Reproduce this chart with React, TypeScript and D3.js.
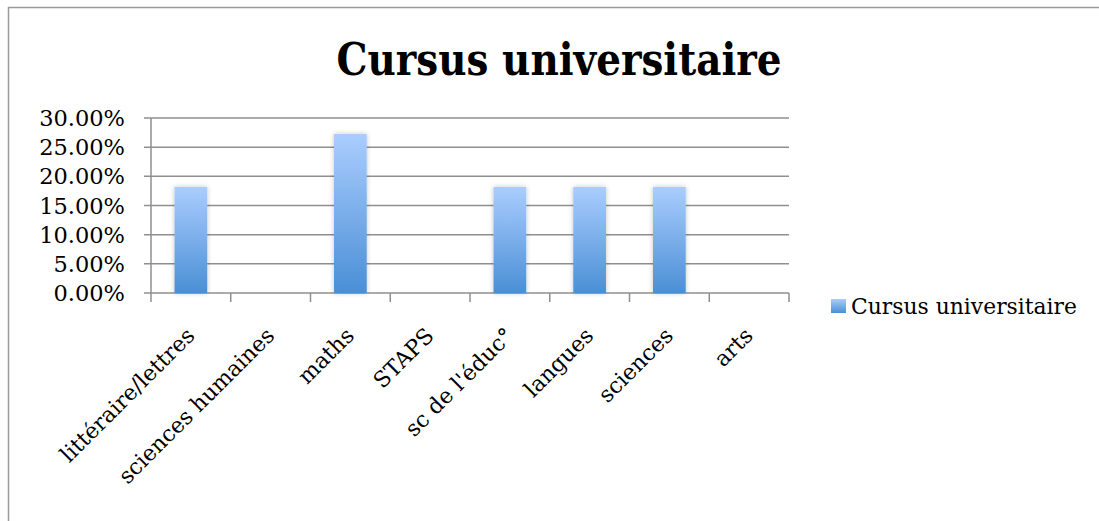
import React from "react";
import * as d3 from "d3";

const categories = [
  "littéraire/lettres",
  "sciences humaines",
  "maths",
  "STAPS",
  "sc de l'éduc°",
  "langues",
  "sciences",
  "arts",
];
const values = [0.1818, 0, 0.2727, 0, 0.1818, 0.1818, 0.1818, 0];
const yTicks = [0, 0.05, 0.1, 0.15, 0.2, 0.25, 0.3];
const seriesName = "Cursus universitaire";
const title = "Cursus universitaire";

const W = 1099;
const H = 521;
const plot = { left: 151, right: 789, top: 118, bottom: 293 };
const font = "'DejaVu Serif', serif";

export default function App() {
  const x = d3
    .scaleBand<string>()
    .domain(categories)
    .range([plot.left, plot.right])
    .paddingInner(0.59)
    .paddingOuter(0.295);
  const xBand = d3.scaleBand<string>().domain(categories).range([plot.left, plot.right]);
  const y = d3.scaleLinear().domain([0, 0.3]).range([plot.bottom, plot.top]);
  const fmt = (v: number) => (v * 100).toFixed(2) + "%";
  const grid = "#8f8f8f";
  const boundaries = d3.range(categories.length + 1).map((i) => plot.left + i * xBand.step());

  return (
    <svg
      width={W}
      height={H}
      style={{ position: "absolute", left: 0, top: 0, background: "#fff" }}
      fontFamily={font}
    >
      <defs>
        <linearGradient id="barGrad" x1="0" y1="0" x2="0" y2="1">
          <stop offset="0" stopColor="#aacdff" />
          <stop offset="1" stopColor="#4a8fd5" />
        </linearGradient>
        <filter id="shadow" x="-30%" y="-10%" width="160%" height="120%">
          <feGaussianBlur in="SourceAlpha" stdDeviation="2.5" />
          <feOffset dx="0" dy="0" />
          <feComponentTransfer>
            <feFuncA type="linear" slope="0.25" />
          </feComponentTransfer>
          <feMerge>
            <feMergeNode />
            <feMergeNode in="SourceGraphic" />
          </feMerge>
        </filter>
      </defs>
      <rect x={0} y={0} width={W} height={H} fill="#fff" />
      <rect x={8.5} y={7.5} width={W + 20} height={H + 20} fill="none" stroke="#9a9a9a" strokeWidth={1.5} />

      <text
        x={559}
        y={75}
        textAnchor="middle"
        fontSize={44}
        fontWeight="bold"
        textLength={445}
        lengthAdjust="spacingAndGlyphs"
      >
        {title}
      </text>

      {yTicks.map((t) => (
        <g key={t}>
          <line x1={plot.left - 7} x2={plot.right} y1={y(t)} y2={y(t)} stroke={grid} strokeWidth={1.5} />
          <text x={125} y={y(t)} dy="0.36em" textAnchor="end" fontSize={22.5} fill="#000">
            {fmt(t)}
          </text>
        </g>
      ))}
      <line x1={plot.left} x2={plot.left} y1={plot.top} y2={plot.bottom + 9} stroke={grid} strokeWidth={1.5} />
      {boundaries.slice(1).map((bx, i) => (
        <line key={i} x1={bx} x2={bx} y1={plot.bottom} y2={plot.bottom + 9} stroke={grid} strokeWidth={1.5} />
      ))}

      {categories.map((c, i) =>
        values[i] > 0 ? (
          <rect
            key={c}
            x={x(c)}
            y={y(values[i])}
            width={x.bandwidth()}
            height={plot.bottom - y(values[i])}
            fill="url(#barGrad)"
            filter="url(#shadow)"
          />
        ) : null
      )}

      {categories.map((c) => {
        const cx = (xBand(c) as number) + xBand.bandwidth() / 2 + 5;
        const cy = 337;
        return (
          <text
            key={c}
            x={cx}
            y={cy}
            textAnchor="end"
            fontSize={22}
            transform={`rotate(-45, ${cx}, ${cy})`}
          >
            {c}
          </text>
        );
      })}

      <rect x={831} y={299} width={15} height={14} fill="url(#barGrad)" />
      <text x={851} y={314} fontSize={22} textLength={226} lengthAdjust="spacingAndGlyphs">
        {seriesName}
      </text>
    </svg>
  );
}
